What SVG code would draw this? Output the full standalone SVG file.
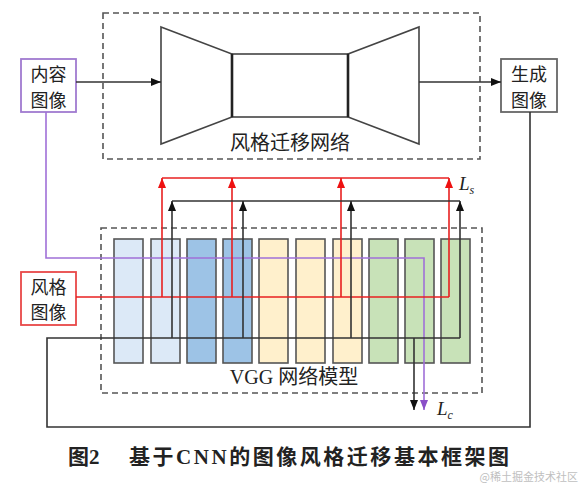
<svg xmlns="http://www.w3.org/2000/svg" width="582" height="484" viewBox="0 0 582 484">
<style>
.cjk{font-family:"Liberation Serif","Noto Sans CJK SC",serif;fill:#222}
.lbl{font-size:18px;text-anchor:middle}
.dash{fill:none;stroke:#555;stroke-width:1.6;stroke-dasharray:6 4}
.blk{stroke:#555;stroke-width:1.6}
.b1{fill:#dce9f7}.b2{fill:#9dc3e6}.b3{fill:#fff0cc}.b4{fill:#c8e2b8}
.trap{fill:#fff;stroke:#444;stroke-width:1.6}
.math{font-family:"Liberation Serif",serif;font-style:italic;fill:#222}
</style>
<defs>
<marker id="ak" markerWidth="10" markerHeight="8" refX="10" refY="4" orient="auto" markerUnits="userSpaceOnUse"><path d="M0,0 L10,4 L0,8 z" fill="#111"/></marker>
<marker id="ar" markerWidth="10" markerHeight="8" refX="10" refY="4" orient="auto" markerUnits="userSpaceOnUse"><path d="M0,0 L10,4 L0,8 z" fill="#ee1111"/></marker>
<marker id="ap" markerWidth="10" markerHeight="8" refX="10" refY="4" orient="auto" markerUnits="userSpaceOnUse"><path d="M0,0 L10,4 L0,8 z" fill="#8a4fc8"/></marker>
</defs>
<rect width="582" height="484" fill="#fff"/>

<g id="transfer-net">
<rect class="dash" x="103" y="13" width="377" height="146"/>
<path class="trap" d="M161,27 L232,54 L232,117 L161,144 Z"/>
<rect x="232" y="54" width="116" height="63" fill="#fff" stroke="#444" stroke-width="1.6"/>
<path class="trap" d="M348,54 L419,27 L419,144 L348,117 Z"/>
<path d="M232,54 V117 M348,54 V117" stroke="#222" stroke-width="2.6"/>
<text class="cjk" x="290" y="150" font-size="20" text-anchor="middle">风格迁移网络</text>
</g>

<g id="content-image">
<rect x="21" y="59" width="55" height="53" fill="#fff" stroke="#a07ad0" stroke-width="1.8"/>
<text class="cjk lbl" x="48.5" y="81">内容</text>
<text class="cjk lbl" x="48.5" y="107">图像</text>
</g>

<g id="generated-image">
<rect x="501" y="59" width="56" height="53" fill="#fff" stroke="#666" stroke-width="1.8"/>
<text class="cjk lbl" x="529" y="81">生成</text>
<text class="cjk lbl" x="529" y="107">图像</text>
</g>

<g id="style-image">
<rect x="21" y="272" width="55" height="53" fill="#fff" stroke="#e84848" stroke-width="1.8"/>
<text class="cjk lbl" x="48.5" y="294">风格</text>
<text class="cjk lbl" x="48.5" y="319">图像</text>
</g>

<g id="vgg">
<rect class="dash" x="101" y="228" width="381" height="165"/>
<rect class="blk b1" x="114" y="239" width="29" height="124"/>
<rect class="blk b1" x="151" y="239" width="29" height="124"/>
<rect class="blk b2" x="187" y="239" width="29" height="124"/>
<rect class="blk b2" x="223" y="239" width="29" height="124"/>
<rect class="blk b3" x="259" y="239" width="29" height="124"/>
<rect class="blk b3" x="296" y="239" width="29" height="124"/>
<rect class="blk b3" x="333" y="239" width="29" height="124"/>
<rect class="blk b4" x="369" y="239" width="29" height="124"/>
<rect class="blk b4" x="405" y="239" width="29" height="124"/>
<rect class="blk b4" x="441" y="239" width="29" height="124"/>
<text class="cjk" x="294" y="384" font-size="20" text-anchor="middle">VGG 网络模型</text>
</g>

<g id="connectors" fill="none" stroke-width="1.6">
<path d="M76,82 H161" stroke="#333" marker-end="url(#ak)"/>
<path d="M419,82 H501" stroke="#333" marker-end="url(#ak)"/>
<path d="M46,112 V258 H424 V410" stroke="#a070d8" marker-end="url(#ap)"/>
<path d="M162,178 H449" stroke="#e82020"/>
<path d="M76,297 H449" stroke="#e82020"/>
<path d="M162,297 V178" stroke="#e82020" marker-end="url(#ar)"/>
<path d="M232,297 V178" stroke="#e82020" marker-end="url(#ar)"/>
<path d="M341,297 V178" stroke="#e82020" marker-end="url(#ar)"/>
<path d="M449,297 V178" stroke="#e82020" marker-end="url(#ar)"/>
<path d="M172,201 H460" stroke="#333"/>
<path d="M530,112 V427 H47 V338 H460" stroke="#333"/>
<path d="M172,338 V201" stroke="#333" marker-end="url(#ak)"/>
<path d="M243,338 V201" stroke="#333" marker-end="url(#ak)"/>
<path d="M351,338 V201" stroke="#333" marker-end="url(#ak)"/>
<path d="M460,338 V201" stroke="#333" marker-end="url(#ak)"/>
<path d="M414,338 V410" stroke="#333" marker-end="url(#ak)"/>
</g>

<text class="math" x="459" y="190" font-size="19">L<tspan font-size="12" dy="4">s</tspan></text>
<text class="math" x="437" y="415" font-size="19">L<tspan font-size="12" dy="4">c</tspan></text>

<text class="cjk" x="68" y="464" font-size="21" font-weight="bold" fill="#111">图2</text>
<text class="cjk" x="129" y="464" font-size="21" font-weight="bold" fill="#111" textLength="380" lengthAdjust="spacing">基于CNN的图像风格迁移基本框架图</text>
<text x="578" y="481" font-size="11" text-anchor="end" fill="#c0c0c0" font-family="'Noto Sans CJK SC',sans-serif">@稀土掘金技术社区</text>
</svg>
